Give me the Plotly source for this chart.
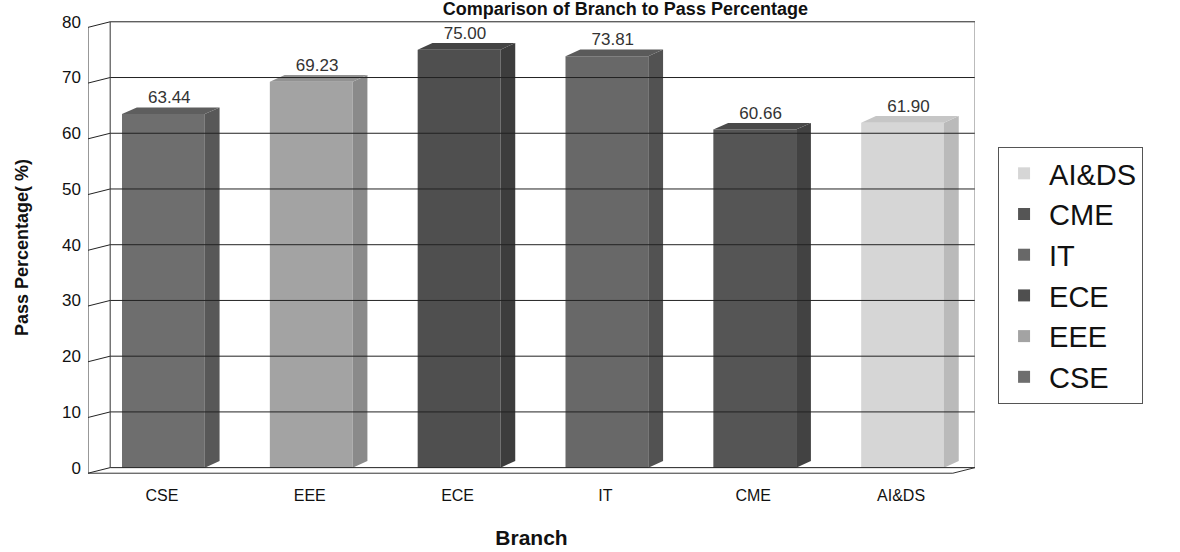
import plotly.graph_objects as go

categories = ["CSE", "EEE", "ECE", "IT", "CME", "AI&DS"]
pass_pct = [63.44, 69.23, 75.00, 73.81, 60.66, 61.90]
y_ticks = [0, 10, 20, 30, 40, 50, 60, 70, 80]

front_colors = ["#6e6e6e", "#a3a3a3", "#4f4f4f", "#686868", "#555555", "#d6d6d6"]
side_colors = ["#585858", "#8a8a8a", "#3d3d3d", "#525252", "#424242", "#bababa"]
top_colors = ["#5e5e5e", "#929292", "#444444", "#5a5a5a", "#494949", "#c6c6c6"]

BAR_W = 0.56
BAR_OFF = -0.27
DX = 0.1
DY = 1.2
WALL_DX = 0.15
WALL_DY = 1.0

fig = go.Figure()

shapes = []
for v in y_ticks:
    shapes.append(dict(type="line", xref="x", yref="y", x0=-0.5, y0=v - WALL_DY,
                       x1=-0.5 + WALL_DX, y1=v, line=dict(color="#222", width=1)))
    shapes.append(dict(type="line", xref="x", yref="y", x0=-0.5 + WALL_DX, y0=v,
                       x1=5.5, y1=v, line=dict(color="#222", width=1)))
shapes.append(dict(type="line", xref="x", yref="y", x0=-0.5, y0=-WALL_DY, x1=-0.5, y1=80 - WALL_DY,
                   line=dict(color="#333", width=1)))
shapes.append(dict(type="line", xref="x", yref="y", x0=-0.5 + WALL_DX, y0=0, x1=-0.5 + WALL_DX, y1=80,
                   line=dict(color="#333", width=1)))
shapes.append(dict(type="line", xref="x", yref="y", x0=5.5, y0=0, x1=5.5, y1=80,
                   line=dict(color="#777", width=1)))
shapes.append(dict(type="line", xref="x", yref="y", x0=-0.5, y0=-WALL_DY, x1=5.5 - WALL_DX, y1=-WALL_DY,
                   line=dict(color="#333", width=1)))
shapes.append(dict(type="line", xref="x", yref="y", x0=5.5 - WALL_DX, y0=-WALL_DY, x1=5.5, y1=0,
                   line=dict(color="#333", width=1)))

for i, (cat, v) in enumerate(zip(categories, pass_pct)):
    fig.add_trace(go.Bar(x=[i], y=[v], width=BAR_W, offset=BAR_OFF, name=cat,
                         marker=dict(color=front_colors[i], line=dict(width=0)),
                         showlegend=True, hoverinfo="skip"))
    xl = i + BAR_OFF
    xr = xl + BAR_W
    fig.add_trace(go.Scatter(x=[xr, xr + DX, xr + DX, xr, xr], y=[0, DY, v + DY, v, 0],
                             mode="lines", fill="toself", fillcolor=side_colors[i],
                             line=dict(width=0, color=side_colors[i]), showlegend=False,
                             hoverinfo="skip"))
    fig.add_trace(go.Scatter(x=[xl, xl + DX, xr + DX, xr, xl], y=[v, v + DY, v + DY, v, v],
                             mode="lines", fill="toself", fillcolor=top_colors[i],
                             line=dict(width=0, color=top_colors[i]), showlegend=False,
                             hoverinfo="skip"))

fig.add_trace(go.Scatter(x=[i + 0.05 for i in range(len(categories))],
                         y=[v + DY for v in pass_pct],
                         text=[f"{v:.2f}" for v in pass_pct], mode="text",
                         textposition="top center",
                         textfont=dict(family="Arial, Liberation Sans", size=17, color="#333"),
                         showlegend=False, hoverinfo="skip"))

fig.update_layout(
    width=1180, height=552,
    margin=dict(l=88, r=205, t=19, b=76, autoexpand=False),
    paper_bgcolor="white", plot_bgcolor="white",
    title=dict(text="<b>Comparison of Branch to Pass Percentage</b>",
               x=0.53, xanchor="center", y=0.996, yanchor="top", yref="container",
               pad=dict(t=0),
               font=dict(family="Arial, Liberation Sans", size=18, color="#111")),
    shapes=shapes,
    xaxis=dict(range=[-0.5, 5.5], tickmode="array", tickvals=list(range(len(categories))),
               ticktext=categories, showgrid=False, zeroline=False, showline=False,
               automargin=False, ticklabelstandoff=8,
               tickfont=dict(family="Arial, Liberation Sans", size=16, color="#111"),
               title=dict(text="<b>Branch</b>", standoff=27,
                          font=dict(family="Arial, Liberation Sans", size=21, color="#111"))),
    yaxis=dict(range=[-1.5, 80.5], tickmode="array", tickvals=y_ticks,
               ticktext=[str(t) for t in y_ticks], showgrid=False, zeroline=False, showline=False,
               automargin=False, ticklabelstandoff=6,
               tickfont=dict(family="Arial, Liberation Sans", size=17, color="#111"),
               title=dict(text="<b>Pass Percentage( %)</b>", standoff=28,
                          font=dict(family="Arial, Liberation Sans", size=18, color="#111"))),
    legend=dict(traceorder="reversed", x=1.026, xanchor="left", y=0.72, yanchor="top",
                bordercolor="#555", borderwidth=1, bgcolor="white",
                font=dict(family="Arial, Liberation Sans", size=29, color="#111"),
                itemwidth=40, tracegroupgap=0),
)

fig.write_html("out.html", config={"displayModeBar": False},
               post_script="document.body.style.margin='0px';")
